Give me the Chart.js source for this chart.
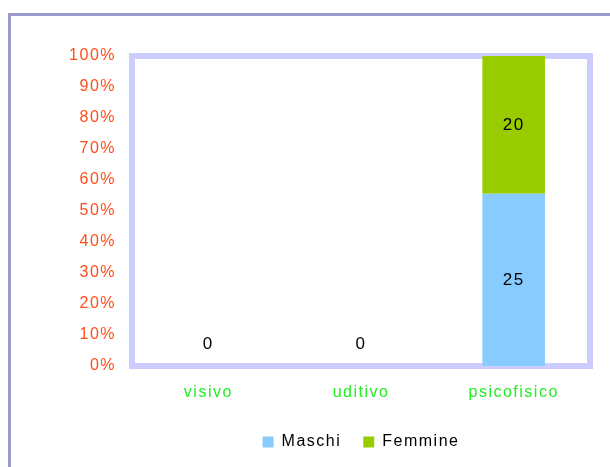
<!DOCTYPE html>
<html>
<head>
<meta charset="utf-8">
<script src="https://cdn.jsdelivr.net/npm/chart.js@4.4.1/dist/chart.umd.min.js"></script>
<style>
  body { margin: 0; background: #fff; }
  #wrap { position: relative; width: 610px; height: 467px; overflow: hidden; }
  #frame { position: absolute; left: 8px; top: 13px; width: 700px; height: 600px; border: 3px solid #9999cc; }
  #c { position: absolute; left: 0; top: 0; }
</style>
</head>
<body>
<div id="wrap">
  <div id="frame"></div>
  <canvas id="c" width="610" height="467"></canvas>
</div>
<script>
// dati del grafico
const categories = ['visivo', 'uditivo', 'psicofisico'];
const maschi = [0, 0, 25];
const femmine = [0, 0, 20];
const series = [
  { label: 'Maschi', values: maschi, color: '#88ccff' },
  { label: 'Femmine', values: femmine, color: '#99cc00' }
];

// totali per categoria -> percentuali (100% in pila)
const totals = categories.map((c, i) => maschi[i] + femmine[i]);
const pct = arr => arr.map((v, i) => totals[i] ? v / totals[i] * 100 : 0);

Chart.defaults.font.family = '"Liberation Sans", Arial, sans-serif';
Chart.defaults.font.size = 16;

// testo un po' più spaziato, come nell'originale
const spacing = {
  id: 'spacing',
  beforeLayout(chart) { chart.ctx.letterSpacing = '1.5px'; },
  beforeDraw(chart) { chart.ctx.letterSpacing = '1.5px'; }
};

// cornice lilla dell'area del grafico, sotto le barre
const plotBorder = {
  id: 'plotBorder',
  beforeDatasetsDraw(chart) {
    const a = chart.chartArea, ctx = chart.ctx;
    ctx.save();
    ctx.strokeStyle = '#ccccff';
    ctx.lineWidth = 6;
    ctx.strokeRect(a.left, a.top, a.right - a.left, a.bottom - a.top);
    ctx.restore();
  }
};

// etichette con i valori assoluti
const valueLabels = {
  id: 'valueLabels',
  afterDatasetsDraw(chart) {
    const ctx = chart.ctx;
    ctx.save();
    ctx.fillStyle = '#000';
    ctx.font = '17px "Liberation Sans", Arial, sans-serif';
    ctx.textAlign = 'center';
    ctx.textBaseline = 'middle';
    categories.forEach((cat, i) => {
      if (!totals[i]) {
        const bar = chart.getDatasetMeta(0).data[i];
        ctx.fillText('0', bar.x, chart.chartArea.bottom - 22);
        return;
      }
      series.forEach((s, d) => {
        if (!s.values[i]) return;
        const bar = chart.getDatasetMeta(d).data[i];
        ctx.fillText(String(s.values[i]), bar.x, (bar.y + bar.base) / 2);
      });
    });
    ctx.restore();
  }
};

new Chart(document.getElementById('c'), {
  type: 'bar',
  data: {
    labels: categories,
    datasets: series.map(s => ({
      label: s.label,
      data: pct(s.values),
      backgroundColor: s.color,
      borderWidth: 0,
      barPercentage: 0.41,
      categoryPercentage: 1
    }))
  },
  options: {
    responsive: false,
    animation: false,
    layout: { padding: { left: 0, right: 20, top: 56, bottom: 7 } },
    scales: {
      x: {
        stacked: true,
        grid: { display: false, drawTicks: false },
        border: { display: false },
        ticks: { color: '#22ee22', padding: 17, font: { size: 16 } },
        afterFit: s => { s.height = 46; }
      },
      y: {
        stacked: true,
        min: 0,
        max: 100,
        grid: { display: false, drawTicks: false },
        border: { display: false },
        ticks: {
          stepSize: 10,
          color: '#ff4d1a',
          padding: 16,
          font: { size: 16 },
          callback: v => v + '%'
        },
        afterFit: s => { s.width = 132; }
      }
    },
    plugins: {
      legend: {
        position: 'bottom',
        fullSize: false,
        labels: { boxWidth: 11, boxHeight: 11, padding: 22, color: '#000', font: { size: 16 } }
      },
      tooltip: { enabled: false }
    }
  },
  plugins: [spacing, plotBorder, valueLabels]
});
</script>
</body>
</html>
